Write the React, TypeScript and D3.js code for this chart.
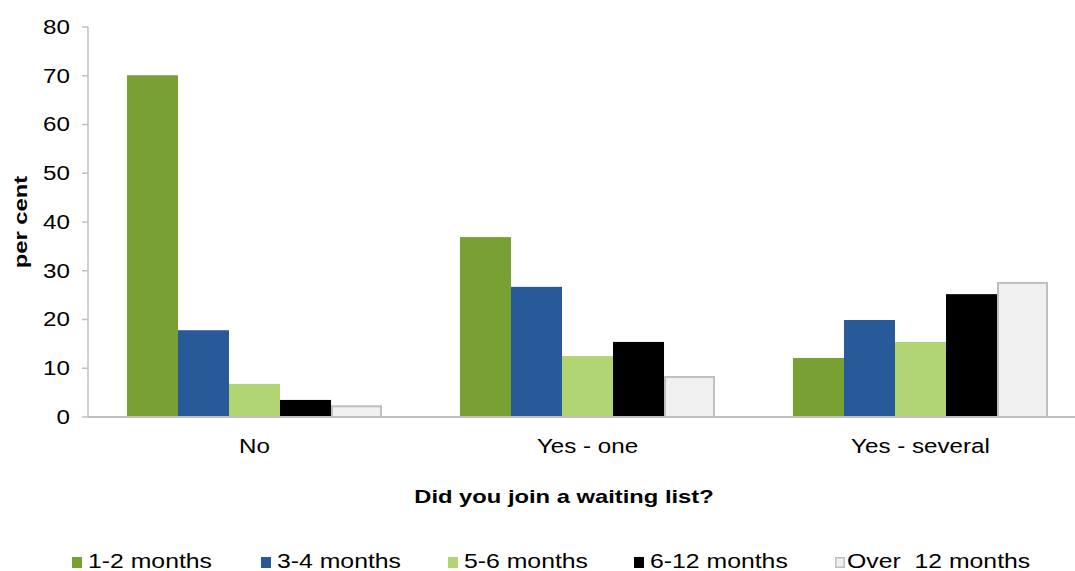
import React from 'react';
import * as d3 from 'd3';

const categories = ['No', 'Yes - one', 'Yes - several'];
const seriesNames = ['1-2 months', '3-4 months', '5-6 months', '6-12 months', 'Over  12 months'];
const seriesValues = [
  [70.1, 36.9, 12.1],
  [17.8, 26.7, 19.9],
  [6.8, 12.5, 15.4],
  [3.5, 15.4, 25.2],
  [2.2, 8.2, 27.5],
];
const seriesColors = ['#78a032', '#285a99', '#b2d574', '#000000', '#f0f0f0'];
const yTicks = [0, 10, 20, 30, 40, 50, 60, 70, 80];

const W = 1075;
const H = 571;
const margin = { top: 27, left: 88 };
const plotW = 999; // the plot runs past the right edge of the picture
const plotH = 390;
const FONT = '"Liberation Sans", Arial, sans-serif';
const axisGrey = '#c0c0c0';
const SX = 1.24; // the reference type is wide, stretch it

// legend layout
const legendX = [72, 261, 448, 634, 835];

type STProps = {
  x: number;
  y: number;
  sx?: number;
  rotate?: number;
  anchor?: 'start' | 'middle' | 'end';
  size: number;
  bold?: boolean;
  dy?: string;
  children: React.ReactNode;
};

const StretchText: React.FC<STProps> = ({ x, y, sx = SX, rotate = 0, anchor = 'start', size, bold, dy, children }) => (
  <text
    transform={`translate(${x},${y}) rotate(${rotate}) scale(${sx},1)`}
    textAnchor={anchor}
    fontSize={size}
    fontWeight={bold ? 'bold' : 'normal'}
    dy={dy}
    fill="#000"
    style={{ whiteSpace: 'pre' }}
  >
    {children}
  </text>
);

const App: React.FC = () => {
  const x0 = d3.scaleBand().domain(categories).range([0, plotW]).paddingInner(0.234).paddingOuter(0.117);
  const x1 = d3.scaleBand().domain(seriesNames).range([0, x0.bandwidth()]);
  const y = d3.scaleLinear().domain([0, 80]).range([plotH, 0]);

  return (
    <svg width={W} height={H} style={{ position: 'absolute', left: 0, top: 0 }} fontFamily={FONT}>
      <rect width={W} height={H} fill="#fff" />
      <g transform={`translate(${margin.left},${margin.top})`}>
        {categories.map((c, ci) => (
          <g key={c} transform={`translate(${x0(c)},0)`}>
            {seriesNames.map((s, si) => {
              const v = seriesValues[si][ci];
              const light = si === 4;
              return (
                <rect
                  key={s}
                  x={(x1(s) || 0) + (light ? 1 : 0)}
                  y={y(v)}
                  width={x1.bandwidth() - (light ? 2 : 0)}
                  height={plotH - y(v)}
                  fill={seriesColors[si]}
                  stroke={light ? '#bfbfbf' : 'none'}
                  strokeWidth={light ? 2 : 0}
                />
              );
            })}
            <StretchText x={x0.bandwidth() / 2} y={plotH + 36} anchor="middle" size={19.5}>
              {c}
            </StretchText>
          </g>
        ))}
        {/* y axis */}
        <line x1={0} x2={0} y1={0} y2={plotH} stroke={axisGrey} strokeWidth={1.5} />
        {yTicks.map(t => (
          <g key={t}>
            <line x1={-6} x2={0} y1={y(t)} y2={y(t)} stroke={axisGrey} strokeWidth={1.5} />
            <StretchText x={-18} y={y(t)} dy="0.35em" anchor="end" size={19.5}>
              {t}
            </StretchText>
          </g>
        ))}
        {/* x axis */}
        <line x1={0} x2={plotW} y1={plotH} y2={plotH} stroke={axisGrey} strokeWidth={2} />
      </g>
      <StretchText x={27} y={margin.top + plotH / 2} rotate={-90} anchor="middle" size={19} bold sx={1.25}>
        per cent
      </StretchText>
      <StretchText x={564} y={503} anchor="middle" size={19} bold sx={1.25}>
        Did you join a waiting list?
      </StretchText>
      {seriesNames.map((s, i) => (
        <g key={s}>
          <rect
            x={legendX[i] + (i === 4 ? 0.75 : 0)}
            y={557 + (i === 4 ? 0.75 : 0)}
            width={i === 4 ? 8.5 : 10}
            height={i === 4 ? 9.5 : 11}
            fill={seriesColors[i]}
            stroke={i === 4 ? '#bfbfbf' : 'none'}
            strokeWidth={1.5}
          />
          <StretchText x={legendX[i] + (i === 4 ? 12 : 16)} y={568} size={20}>
            {s}
          </StretchText>
        </g>
      ))}
    </svg>
  );
};

export default App;
